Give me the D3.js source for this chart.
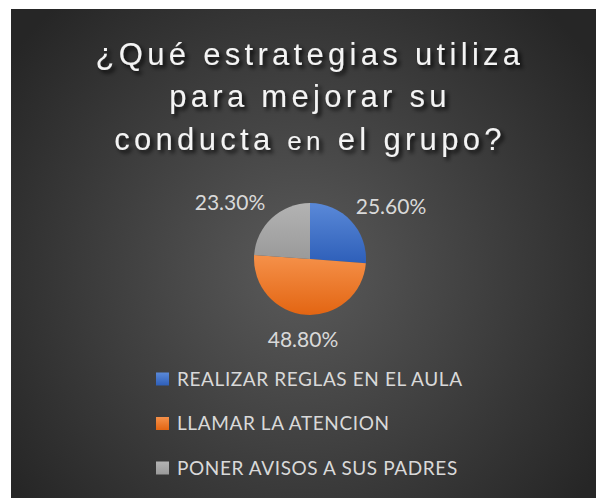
<!DOCTYPE html>
<html>
<head>
<meta charset="utf-8">
<script src="https://cdn.jsdelivr.net/npm/d3@7"></script>
<style>
  body { margin: 0; background: #ffffff; }
  #chart { width: 596px; height: 498px; }
</style>
</head>
<body>
<div id="chart"></div>
<script>
// Chart data
const categories = ['REALIZAR REGLAS EN EL AULA', 'LLAMAR LA ATENCION', 'PONER AVISOS A SUS PADRES'];
const values = [25.6, 48.8, 23.3];
const valueLabels = ['25.60%', '48.80%', '23.30%'];
const titleLines = [
  [{ t: '¿Qué estrategias utiliza' }],
  [{ t: 'para mejorar su' }],
  [{ t: 'conducta ' }, { t: 'en', small: true }, { t: ' el grupo?' }]
];

const width = 596;
const height = 498;
const area = { x: 11, y: 9, w: 585, h: 489 };

const colorTop = ['#5a89d8', '#f5914a', '#b3b3b3'];
const colorBottom = ['#2e5fb9', '#e36512', '#9a9a9a'];

const svg = d3.select('#chart')
  .append('svg')
  .attr('width', width)
  .attr('height', height);

const defs = svg.append('defs');

// Background radial gradient
const bg = defs.append('radialGradient')
  .attr('id', 'bg-grad')
  .attr('gradientUnits', 'userSpaceOnUse')
  .attr('cx', 300).attr('cy', 270).attr('r', 360);
bg.append('stop').attr('offset', '0%').attr('stop-color', '#5a5a5a');
bg.append('stop').attr('offset', '100%').attr('stop-color', '#262626');

// Title shadow
const shadow = defs.append('filter')
  .attr('id', 'title-shadow')
  .attr('x', '-10%').attr('y', '-30%')
  .attr('width', '120%').attr('height', '160%');
shadow.append('feDropShadow')
  .attr('dx', 3).attr('dy', 3)
  .attr('stdDeviation', 2)
  .attr('flood-color', '#000')
  .attr('flood-opacity', 0.85);

categories.forEach((c, i) => {
  const g = defs.append('linearGradient')
    .attr('id', `slice-grad-${i}`)
    .attr('x1', '0%').attr('x2', '0%')
    .attr('y1', '0%').attr('y2', '100%');
  g.append('stop').attr('offset', '0%').attr('stop-color', colorTop[i]);
  g.append('stop').attr('offset', '100%').attr('stop-color', colorBottom[i]);
});

svg.append('rect')
  .attr('x', area.x)
  .attr('y', area.y)
  .attr('width', area.w)
  .attr('height', area.h)
  .attr('fill', 'url(#bg-grad)');

// Title
const title = svg.append('text')
  .attr('text-anchor', 'middle')
  .attr('filter', 'url(#title-shadow)')
  .style('font-family', '"Liberation Sans", Arial, sans-serif')
  .style('font-size', '31px')
  .style('letter-spacing', '4.3px')
  .style('fill', '#f4f4f4');

const baselines = [65, 107, 150];
titleLines.forEach((parts, i) => {
  const line = title.append('tspan')
    .attr('x', 310)
    .attr('y', baselines[i]);
  parts.forEach(p => {
    line.append('tspan')
      .style('font-size', p.small ? '26px' : null)
      .text(p.t);
  });
});

// Pie
const cx = 310;
const cy = 259;
const radius = 56;

const pie = d3.pie().value(d => d).sort(null);
const arc = d3.arc().innerRadius(0).outerRadius(radius);

const pieGroup = svg.append('g')
  .attr('transform', `translate(${cx},${cy})`);

pieGroup.selectAll('path')
  .data(pie(values))
  .enter()
  .append('path')
  .attr('d', arc)
  .attr('fill', (d, i) => `url(#slice-grad-${i})`);

// Data labels
const labelPos = [[391, 214], [303, 347], [230, 210]];
svg.selectAll('.data-label')
  .data(valueLabels)
  .enter()
  .append('text')
  .attr('class', 'data-label')
  .attr('x', (d, i) => labelPos[i][0])
  .attr('y', (d, i) => labelPos[i][1])
  .attr('text-anchor', 'middle')
  .style('font-family', 'Lato, sans-serif')
  .style('font-size', '21px')
  .style('fill', '#d9d9d9')
  .text(d => d);

// Legend
const legend = svg.append('g')
  .attr('transform', 'translate(156, 379)');

categories.forEach((c, i) => {
  const row = legend.append('g')
    .attr('transform', `translate(0, ${i * 44.5})`);

  row.append('rect')
    .attr('x', 0)
    .attr('y', -6.5)
    .attr('width', 13)
    .attr('height', 13)
    .attr('fill', `url(#slice-grad-${i})`);

  row.append('text')
    .attr('x', 21)
    .attr('y', 6.5)
    .style('font-family', 'Lato, sans-serif')
    .style('font-size', '19px')
    .style('letter-spacing', '0.6px')
    .style('fill', '#d9d9d9')
    .text(c);
});
</script>
</body>
</html>
